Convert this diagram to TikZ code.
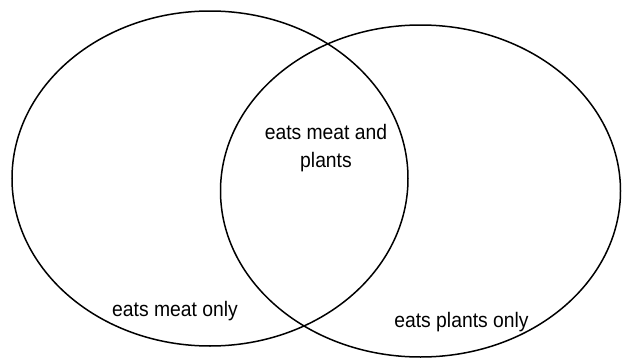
\documentclass[tikz,border=0pt]{standalone}
\usepackage{fontspec}
\setmainfont[FakeStretch=0.92]{Liberation Sans}
\begin{document}
\begin{tikzpicture}[x=1pt,y=1pt,
  setline/.style={line width=1.5pt,draw=black},
  lbl/.style={font=\fontsize{21}{28}\selectfont,inner sep=0pt,anchor=base,align=center}]
\useasboundingbox (0,0) rectangle (622,360);
\draw[setline] (210,181.5) ellipse [x radius=198, y radius=167.5];
\draw[setline] (420.5,169) ellipse [x radius=200, y radius=166];
\node[lbl] (both) at (326,193) {eats meat and\\plants};
\node[lbl] (meat) at (175,44) {eats meat only};
\node[lbl] (plants) at (461.5,33) {eats plants only};
\end{tikzpicture}
\end{document}
